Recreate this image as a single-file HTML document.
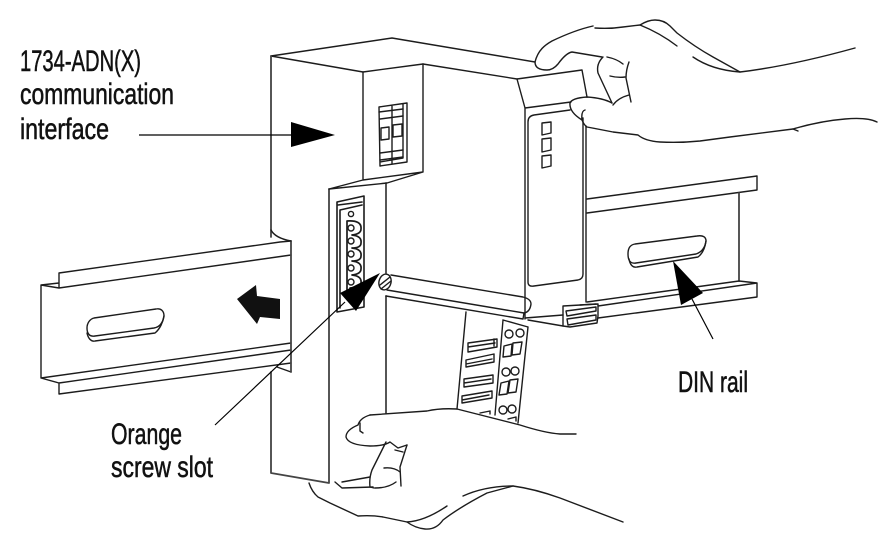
<!DOCTYPE html>
<html><head><meta charset="utf-8"><style>
html,body{margin:0;padding:0;background:#fff;width:885px;height:536px;overflow:hidden}
svg{display:block}
text{font-family:"Liberation Sans Narrow","Liberation Sans",sans-serif;font-size:30px;fill:#111;stroke:#111;stroke-width:.55}
.g{stroke:#444;stroke-width:1.8}
</style></head><body>
<svg width="885" height="536" viewBox="0 0 885 536" xmlns="http://www.w3.org/2000/svg">
<rect width="885" height="536" fill="#fff"/>
<g fill="none" stroke="#1c1c1c" stroke-width="1.4" stroke-linejoin="round" stroke-linecap="round">
<!-- top of module -->
<path d="M271,56 L392,38 L535,62"/>
<path d="M271,56 L363,72 L423,64 L517,79 L582,70 L587,97"/>
<path class="g" d="M271,56 V237 M271,372 V473 L329,483 M329,189 V483 M386,183 V273 M386,296 V413"/>
<path d="M363,72 V180 M423,64 V172 M363,180 L423,172 M329,189 L363,180 M329,189 L387,183 L423,172"/>
<path d="M517,79 L525,108 V319 M525,108 L571,102"/>
<path d="M570,110 L534,115 Q528,116 528,122 V282 Q528,287 534,286 L578,280 Q583,279 583,274 V118"/>
<path d="M586,126 V302"/>
<!-- switch -->
<path d="M379,107 L407,103 V162 L380,166 Z M403,104 V158 L380,162 M392,106 V164"/>
<path d="M379,112 L403,109 M380,119 L403,116 M380,153 L403,150 M380,160 L403,157"/>
<path d="M381,128 L389,127 V139 L381,140 Z M393,125 L402,124 V136 L393,137 Z"/>
<!-- LEDs -->
<path d="M542,123 L551,122 V133 L542,135 Z M542,139 L551,138 V150 L542,152 Z M542,156 L551,155 V166 L542,168 Z"/>
<!-- terminal -->
<path stroke-width="1.6" d="M337,202 L364,196 V307 L337,312 Z M338,205 L362,202 M340,210 L362,205 M340,210 V308"/>
<circle cx="351" cy="214" r="2.6"/>
<path stroke-width="1.7" d="M347,221 Q362,220 361,229 Q361,234 352,235 Q362,236 361,243 Q361,248 352,248 Q362,249 361,256 Q361,261 352,261 Q362,262 361,269 Q361,274 352,275 Q362,276 361,283 Q361,287 350,288 M347,221 V292"/>
<circle cx="351" cy="228" r="3"/><circle cx="351" cy="241" r="3"/><circle cx="351" cy="254" r="3"/><circle cx="351" cy="268" r="3"/><circle cx="351" cy="282" r="3"/>
<!-- rod -->
<path d="M391,275 L523,297 Q531,299 531,304 Q530,312 524,313 L387,290"/>
<path d="M386,296 L523,319 L524,313"/>
<ellipse cx="385" cy="282" rx="6" ry="8" transform="rotate(15 385 282)"/>
<path d="M380,285 L390,277 M381,289 L391,281"/>
<!-- module below -->
<path d="M466,312 L457,409 M503,320 L495,415 M528,327 L518,423 M503,320 L528,327"/>
<path d="M468,343 L497,339 V347 L468,352 Z M468,347 L495,343 M494,339 V346"/>
<path d="M466,360 L494,354 V362 L466,367 Z M466,364 L492,359"/>
<path d="M464,379 L493,375 V383 L464,387 Z M464,383 L491,379"/>
<path d="M462,396 L492,391 V398 L462,403 Z M462,400 L489,395"/>
<path d="M480,413 L490,411 V414"/>
<circle cx="509" cy="334" r="4"/><circle cx="520" cy="333" r="4"/>
<circle cx="506" cy="372" r="4"/><circle cx="515" cy="371" r="4"/>
<circle cx="503" cy="410" r="4"/><circle cx="512" cy="409" r="4"/>
<path d="M504,346 L512,344 L511,356 L503,357 Z M513,343 L522,342 L520,354 L512,355 Z"/>
<path d="M501,383 L509,381 L507,394 L499,395 Z M510,380 L518,379 L516,392 L508,393 Z"/>
<path d="M508,419 L516,417 V421"/>
<!-- clip -->
<path d="M563,306 L598,304 V316 L597,323 L570,327 L563,326 Z"/>
<path d="M566,311 L596,307 V311 L567,316 Z M567,319 L596,315 V320 L568,325 Z M580,305 L596,304"/>
<path d="M525,318 L563,315 M528,320 L563,326"/>
<!-- right rail -->
<path d="M587,199 L757,176 V190 L587,213"/>
<path class="g" d="M739,193 V281"/>
<path d="M587,302 L739,281 L757,283 V297 L598,318 M598,306 L757,283"/>
<path d="M635,244 L697,236 C703,235 706,237 706,241 C705,248 702,252 696,254 L636,263 C630,264 628,260 628,254 C628,248 630,245 635,244 Z"/>
<path d="M629,259 C630,265 633,268 637,267 L698,257 C702,254 705,248 706,241"/>
<!-- left rail -->
<path d="M59,273 L280,242 L291,241 M59,288 L291,255 M59,273 V288 M41,285 L59,283 M41,285 L59,288 M41,285 V378 L291,343 M41,378 L59,383 L291,350 M59,383 V394 L291,363 M277,367 L291,372"/>
<path class="g" d="M291,241 V372"/>
<path d="M271,230 Q275,238 291,241"/>
<path d="M94,318 L156,309 C161,308 164,311 164,316 C163,322 160,327 154,328 L95,336 C89,337 87,333 87,328 C87,323 90,319 94,318 Z"/>
<path d="M87,333 C88,338 91,342 95,341 L155,333 C160,329 163,322 164,316"/>
<!-- top hand -->
<path d="M535,62 C538,50 545,45 552,41 Q575,30 593,26 M595,28 Q610,29 623,27 L640,25 Q648,20 655,20 Q664,20 670,26 L677,33 Q695,47 713,57 L740,72 Q790,66 855,48"/>
<path d="M535,62 Q535,70 547,70 Q553,70 558,64 Q566,53 572,52 L602,57"/>
<path d="M640,25 Q660,33 677,46 M693,57 Q712,70 740,72"/>
<path d="M603,57 Q596,64 598,73 L612,103 M607,57 Q617,59 623,64 M629,62 Q626,70 626,78 L631,102"/>
<path d="M610,76 Q618,78 625,77 M613,105 Q618,98 629,95"/>
<path d="M570,103 Q572,98 587,97 Q603,98 612,103"/>
<path d="M570,103 Q569,112 582,120 M585,110 Q581,111 582,120 Q584,125 587,127 L613,132 Q630,134 638,135 Q645,141 660,142 Q680,143 700,141 L730,137 L793,129 Q820,121 845,119 Q867,117 877,122"/>
<path d="M793,129 L798,131"/>
<!-- bottom hand -->
<path d="M370,415 L427,411 Q440,408 457,409 L520,425 Q545,433 560,434 L576,434"/>
<path d="M370,415 Q360,418 358,425 Q346,430 346,437 Q348,445 370,446 Q384,446 390,442 L398,448 L407,445"/>
<path d="M360,423 L360,431 L363,433"/>
<path d="M386,442 L372,470 Q369,478 370,487 L374,488 M375,488 Q388,488 396,482"/>
<path d="M407,445 L400,467 L401,486 M384,468 Q394,467 400,472 M395,450 L403,452"/>
<path d="M335,482 L342,488 L373,487 M342,482 L370,477"/>
<path d="M309,483 Q312,492 318,497 L330,503 L358,516 Q372,515 383,517 L407,522 Q415,528 425,529 Q436,530 443,520 Q460,507 487,493 L513,486"/>
<path d="M407,522 Q425,521 447,506"/>
<path d="M463,496 Q485,486 513,486 Q535,489 560,498 L623,522"/>
</g>
<!-- callouts -->
<g stroke="#000" stroke-width="1.2" fill="none">
<path d="M139,135 H291"/>
<path d="M345,302 L215,425"/>
<path d="M692,299 L713,339"/>
</g>
<g fill="#000">
<polygon points="291,122 335,135 291,147"/>
<polygon points="380,273 340,293 356,311"/>
<polygon points="673,261 703,293 681,305"/>
<polygon fill="#111" points="237,299 256,285 257,296 280,299 280,319 260,317 257,324"/>
</g>
<text x="20" y="71" textLength="121" lengthAdjust="spacingAndGlyphs">1734-ADN(X)</text>
<text x="20" y="104" textLength="154" lengthAdjust="spacingAndGlyphs">communication</text>
<text x="20" y="139" textLength="89" lengthAdjust="spacingAndGlyphs">interface</text>
<text x="111" y="444" textLength="71" lengthAdjust="spacingAndGlyphs">Orange</text>
<text x="111" y="477" textLength="102" lengthAdjust="spacingAndGlyphs">screw slot</text>
<text x="678" y="392" textLength="70" lengthAdjust="spacingAndGlyphs">DIN rail</text>
</svg>
</body></html>
